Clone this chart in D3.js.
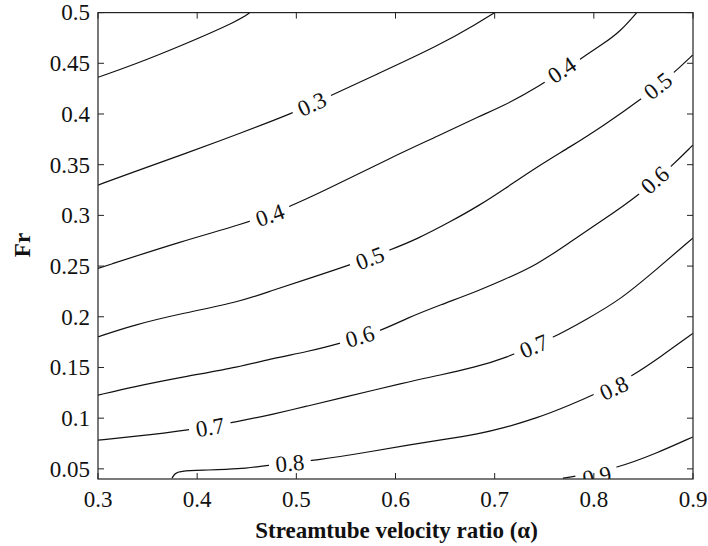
<!DOCTYPE html>
<html><head><meta charset="utf-8">
<script src="https://cdn.jsdelivr.net/npm/d3@7/dist/d3.min.js"></script>
<style>body{margin:0;background:#fff}svg{display:block}</style>
</head><body>
<svg id="chart" width="708" height="546"></svg>
<script>
// ---- data (alpha, Fr) ----
const xTicks = [0.3, 0.4, 0.5, 0.6, 0.7, 0.8, 0.9];
const yTicks = [0.05, 0.1, 0.15, 0.2, 0.25, 0.3, 0.35, 0.4, 0.45, 0.5];
const yTickLabels = ["0.05","0.1","0.15","0.2","0.25","0.3","0.35","0.4","0.45","0.5"];

const contourLevels = [0.2, 0.3, 0.4, 0.5, 0.6, 0.7, 0.8, 0.9];
const c02 = [[0.300,0.4362],[0.3353,0.4483],[0.3857,0.4680],[0.4431,0.4927],[0.4532,0.5]];
const c03 = [[0.300,0.3299],[0.3353,0.3427],[0.3857,0.3600],[0.4431,0.3809],[0.4966,0.4009],[0.5339,0.4177],[0.5772,0.4374],[0.6448,0.4680],[0.6831,0.4897],[0.7002,0.5]];
const c04 = [[0.300,0.2477],[0.3877,0.2756],[0.4431,0.2904],[0.4915,0.3072],[0.5440,0.3319],[0.5944,0.3565],[0.6448,0.3792],[0.6851,0.3980],[0.7083,0.4078],[0.7425,0.4256],[0.7879,0.4552],[0.8091,0.4690],[0.8262,0.4809],[0.8433,0.5]];
const c05 = [[0.300,0.1802],[0.3353,0.1918],[0.3857,0.2036],[0.4431,0.2147],[0.4764,0.2263],[0.5107,0.2371],[0.5540,0.2510],[0.5944,0.2658],[0.6216,0.2766],[0.6548,0.2934],[0.6851,0.3102],[0.7083,0.3250],[0.7425,0.3477],[0.7758,0.3674],[0.8091,0.3881],[0.8494,0.4157],[0.8796,0.4394],[0.8998,0.4582]];
const c06 = [[0.300,0.1227],[0.3353,0.1309],[0.3857,0.1407],[0.4431,0.1506],[0.4764,0.1592],[0.5107,0.1654],[0.5440,0.1737],[0.5843,0.1855],[0.6115,0.1987],[0.6448,0.2115],[0.6851,0.2263],[0.7083,0.2362],[0.7425,0.2510],[0.7788,0.2756],[0.8091,0.2954],[0.8433,0.3181],[0.8796,0.3496],[0.8998,0.3693]];
const c07 = [[0.300,0.0783],[0.3353,0.0817],[0.3907,0.0881],[0.4431,0.0970],[0.4764,0.1039],[0.5107,0.1118],[0.5440,0.1197],[0.6115,0.1355],[0.6448,0.1424],[0.6800,0.1503],[0.7083,0.1582],[0.7607,0.1799],[0.7929,0.1977],[0.8262,0.2164],[0.8635,0.2470],[0.8998,0.2776]];
const c08 = [[0.3746,0.0408],[0.3776,0.0457],[0.3827,0.0477],[0.4028,0.0487],[0.4431,0.0497],[0.4704,0.0536],[0.5218,0.0585],[0.5772,0.0674],[0.6115,0.0733],[0.6448,0.0783],[0.6851,0.0847],[0.7083,0.0901],[0.7425,0.1000],[0.7758,0.1128],[0.8010,0.1237],[0.8393,0.1414],[0.8696,0.1622],[0.8998,0.1836]];
const c09 = [[0.7688,0.0408],[0.7829,0.0428],[0.8232,0.0507],[0.8635,0.0655],[0.8998,0.0815]];
const contourLines = [c02, c03, c04, c05, c06, c07, c08, c09];

const labelLevels = [0.3, 0.4, 0.4, 0.5, 0.5, 0.6, 0.6, 0.7, 0.7, 0.8, 0.8, 0.9];
const labelAlpha  = [0.5157, 0.4734, 0.7677, 0.5742, 0.8645, 0.5641, 0.8615, 0.4129, 0.7395, 0.4935, 0.8202, 0.8030];
const labelFr     = [0.4098, 0.3003, 0.4434, 0.2579, 0.4276, 0.1806, 0.3348, 0.0911, 0.1710, 0.0556, 0.1296, 0.0428];

// ---- layout ----
const W = 708, H = 546;
const L = 98, R = 693, T = 12.6, B = 479;
const svg = d3.select("#chart");
svg.append("rect").attr("width", W).attr("height", H).attr("fill", "#fff");

const x = d3.scaleLinear().domain([0.3, 0.9]).range([L, R]);
const y = d3.scaleLinear().domain([0.04, 0.5]).range([B, T]);

const serif = "'Liberation Serif','Times New Roman',Times,serif";

svg.append("defs").append("clipPath").attr("id", "plotclip")
  .append("rect").attr("x", L).attr("y", T).attr("width", R - L).attr("height", B - T);

const plot = svg.append("g").attr("clip-path", "url(#plotclip)");

const lineGen = d3.line().x(d => x(d[0])).y(d => y(d[1])).curve(d3.curveBasis);

plot.selectAll("path.contour").data(contourLines).join("path")
  .attr("class", "contour")
  .attr("d", lineGen)
  .attr("fill", "none")
  .attr("stroke", "#111")
  .attr("stroke-width", 1.2);

// labels
const fmt = d3.format(".1f");
function angleAt(level, a) {
  const idx = contourLevels.findIndex(v => Math.abs(v - level) < 1e-9);
  const pts = contourLines[idx].map(d => [x(d[0]), y(d[1])]);
  const px = x(a);
  for (let i = 0; i < pts.length - 1; i++) {
    if (px >= pts[i][0] && px <= pts[i + 1][0]) {
      return Math.atan2(pts[i + 1][1] - pts[i][1], pts[i + 1][0] - pts[i][0]) * 180 / Math.PI;
    }
  }
  return 0;
}
const labels = labelLevels.map((lv, i) => ({ lv, a: labelAlpha[i], f: labelFr[i] }));
const lg = plot.selectAll("g.clabel").data(labels).join("g")
  .attr("class", "clabel")
  .attr("transform", d => `translate(${x(d.a)},${y(d.f)}) rotate(${angleAt(d.lv, d.a)})`);
lg.append("rect")
  .attr("x", -21).attr("y", -7).attr("width", 42).attr("height", 14)
  .attr("fill", "#fff");
lg.append("text")
  .attr("text-anchor", "middle")
  .attr("dy", "0.34em")
  .attr("font-family", serif)
  .attr("font-size", 23)
  .attr("fill", "#111")
  .text(d => fmt(d.lv));

// frame
svg.append("rect").attr("x", L).attr("y", T).attr("width", R - L).attr("height", B - T)
  .attr("fill", "none").attr("stroke", "#222").attr("stroke-width", 1.2);

// ticks (inward, all four sides)
const tk = 6;
const tg = svg.append("g").attr("stroke", "#222").attr("stroke-width", 1);
xTicks.forEach(v => {
  tg.append("line").attr("x1", x(v)).attr("x2", x(v)).attr("y1", B).attr("y2", B - tk);
  tg.append("line").attr("x1", x(v)).attr("x2", x(v)).attr("y1", T).attr("y2", T + tk);
});
yTicks.forEach(v => {
  tg.append("line").attr("x1", L).attr("x2", L + tk).attr("y1", y(v)).attr("y2", y(v));
  tg.append("line").attr("x1", R).attr("x2", R - tk).attr("y1", y(v)).attr("y2", y(v));
});

// tick labels
svg.append("g").selectAll("text").data(xTicks).join("text")
  .attr("x", d => x(d)).attr("y", 507)
  .attr("text-anchor", "middle")
  .attr("font-family", serif).attr("font-size", 23).attr("fill", "#111")
  .text(d => d3.format(".1f")(d));

svg.append("g").selectAll("text").data(yTicks).join("text")
  .attr("x", 90).attr("y", d => y(d)).attr("dy", "0.34em")
  .attr("text-anchor", "end")
  .attr("font-family", serif).attr("font-size", 23).attr("fill", "#111")
  .text((d, i) => yTickLabels[i]);

// axis titles
svg.append("text")
  .attr("x", (L + R) / 2 + 1).attr("y", 538)
  .attr("text-anchor", "middle")
  .attr("font-family", serif).attr("font-weight", "bold").attr("font-size", 23).attr("fill", "#111")
  .text("Streamtube velocity ratio (α)");

svg.append("text")
  .attr("transform", `translate(30,245) rotate(-90)`)
  .attr("text-anchor", "middle")
  .attr("font-family", serif).attr("font-weight", "bold").attr("font-size", 23).attr("fill", "#111")
  .text("Fr");
</script>
</body></html>
